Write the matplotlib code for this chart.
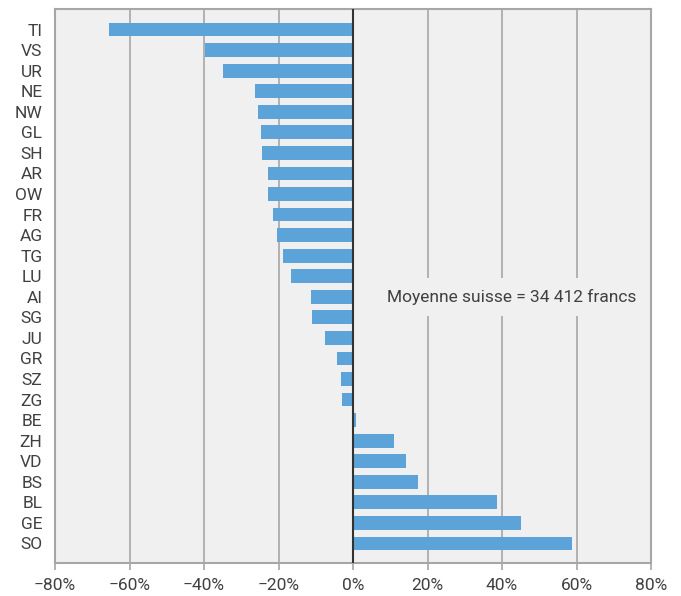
import matplotlib
matplotlib.use("Agg")
import matplotlib.pyplot as plt
from matplotlib.ticker import FuncFormatter

plt.rcParams['font.family'] = ['Roboto', 'DejaVu Sans']

# Écart au revenu moyen suisse, par canton (%)
cantons = ["TI", "VS", "UR", "NE", "NW", "GL", "SH", "AR", "OW", "FR", "AG", "TG", "LU",
           "AI", "SG", "JU", "GR", "SZ", "ZG", "BE", "ZH", "VD", "BS", "BL", "GE", "SO"]
ecart = [-65.5, -39.7, -34.8, -26.2, -25.4, -24.8, -24.3, -22.9, -22.9, -21.4, -20.5, -18.9, -16.7,
         -11.2, -11.0, -7.5, -4.2, -3.1, -2.9, 0.9, 11.1, 14.3, 17.5, 38.7, 45.2, 58.9]
ticks = [-80, -60, -40, -20, 0, 20, 40, 60, 80]

fig = plt.figure(figsize=(6.81, 5.96), dpi=100)
ax = fig.add_axes([55 / 681, 1 - 563 / 596, 596 / 681, 554 / 596])
ax.set_facecolor("#f0f0f0")

pos = list(range(len(cantons)))
ax.barh(pos, ecart, height=0.67, color="#5ba3d9", zorder=3)
ax.axvline(0, color="#333333", lw=1.5, zorder=4)

ax.set_xlim(-80, 80)
ax.set_ylim(25.95, -1.0)
ax.set_xticks(ticks)
ax.xaxis.set_major_formatter(FuncFormatter(lambda v, p: f"{v:.0f}%".replace("-", "\u2212")))
ax.set_yticks(pos)
ax.set_yticklabels(cantons)
ax.grid(axis="x", color="#a6a6a6", lw=1.2, zorder=1)
ax.set_axisbelow(True)

for s in ax.spines.values():
    s.set_color("#a6a6a6")
    s.set_linewidth(1.5)

ax.tick_params(axis="x", colors="#a6a6a6", labelcolor="#404040", length=5, width=1.2,
               labelsize=12.5, pad=6)
ax.tick_params(axis="y", length=0, labelcolor="#404040", labelsize=12.5, pad=9)

ax.text(42.5, 13, "Moyenne suisse = 34 412 francs", ha="center", va="center",
        fontsize=12.5, color="#404040", zorder=5,
        bbox=dict(facecolor="#f0f0f0", edgecolor="none", pad=8))

fig.savefig("out.png", dpi=100)
